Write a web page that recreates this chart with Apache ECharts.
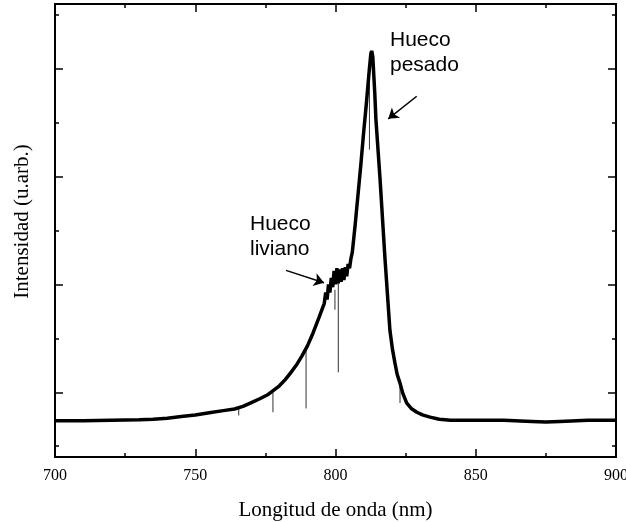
<!DOCTYPE html>
<html><head><meta charset="utf-8">
<script src="https://cdn.jsdelivr.net/npm/echarts@6/dist/echarts.min.js"></script>
<style>html,body{margin:0;padding:0;background:#fff}#c{width:626px;height:522px}</style>
</head><body><div id="c"></div>
<script>
// Wavelength (nm) and intensity (arb. units)
const wavelength = [700,710,720,730,735,740,745,750,755,760,764,767,770,773,776,778,780,782,784,786,788,790,792,794,
  796,796.5,797,797.5,798,798.5,799,799.5,800,800.5,801,801.5,802,802.5,803,803.5,804,804.5,805,805.5,806,
  807,808,809,810,811,812,812.6,812.9,813.3,814,814.4,815.9,817.6,819.4,820.3,821.2,822,823,824,825.4,827,829,831,833.7,837,841,
  850,860,870,875,880,890,900];
const intensity = [0.47,0.47,0.48,0.49,0.50,0.52,0.55,0.58,0.62,0.66,0.69,0.74,0.81,0.88,0.96,1.04,1.12,1.23,1.36,1.50,1.67,1.86,2.10,2.37,
  2.65,2.85,2.72,3.00,2.85,3.12,2.95,3.25,3.00,3.30,3.02,3.28,3.05,3.30,3.08,3.32,3.15,3.38,3.30,3.48,3.60,
  4.10,4.65,5.20,5.80,6.35,6.95,7.28,7.33,7.22,6.55,6.07,4.94,3.51,2.15,1.80,1.54,1.33,1.17,0.98,0.80,0.70,0.63,0.58,0.54,0.50,0.48,
  0.48,0.48,0.46,0.45,0.46,0.48,0.48];
// narrow downward glitches in the spectrum
const spikeX = [765.5,777.7,789.5,799.8,801.0,812.1,823.0];
const spikeTop = [0.70,1.00,1.80,2.90,3.05,6.90,1.17];
const spikeBottom = [0.57,0.63,0.70,2.53,1.37,5.50,0.80];
// axis ticks
const xMin = 700, xMax = 900, xStep = 50;
const yMajorTicks = [1,3,5,7];
const yMinorTicks = [0,2,4,6,8];
const yMin = -0.2, yMax = 8.2;
// annotations: arrow start / end in data coordinates
const arrowPesado = [[828.95,6.49],[818.8,6.07]];
const arrowLiviano = [[782.35,3.26],[795.9,3.03]];
const labelPesado = 'Hueco\npesado';
const labelLiviano = 'Hueco\nliviano';

const serif = '"Liberation Serif","Times New Roman",serif';
const sans = '"Liberation Sans",Arial,sans-serif';
const black = '#000';

const mainData = wavelength.map((x,i)=>[x,intensity[i]]);
const spikeSeries = spikeX.map((x,i)=>({
  type:'line', xAxisIndex:0, yAxisIndex:0, symbol:'none', silent:true,
  lineStyle:{color:'#333',width:1}, data:[[x,spikeTop[i]],[x,spikeBottom[i]]], z:3
}));

function xAxisCfg(pos, showLabel){
  return {
    type:'value', position:pos, min:xMin, max:xMax, interval:xStep,
    axisLine:{show:true,onZero:false,lineStyle:{color:black,width:2}},
    axisTick:{show:true,inside:true,length:8,lineStyle:{color:black,width:1.5}},
    minorTick:{show:true,splitNumber:2,length:4,lineStyle:{color:black,width:1.5}},
    splitLine:{show:false}, minorSplitLine:{show:false},
    axisLabel:{show:showLabel,fontFamily:serif,fontSize:16,color:black,margin:11},
    name: showLabel ? 'Longitud de onda (nm)' : '',
    nameLocation:'middle', nameGap:43,
    nameTextStyle:{fontFamily:serif,fontSize:21,color:black}
  };
}
function yAxisCfg(pos, ticks, len, withName){
  return {
    type:'value', position:pos, min:yMin, max:yMax,
    axisLine:{show:true,onZero:false,lineStyle:{color:black,width:2}},
    axisTick:{show:true,inside:true,length:len,customValues:ticks,lineStyle:{color:black,width:1.5}},
    splitLine:{show:false},
    axisLabel:{show:false},
    name: withName ? 'Intensidad (u.arb.)' : '',
    nameLocation:'middle', nameGap:22,
    nameTextStyle:{fontFamily:serif,fontSize:21,color:black,padding:[0,0,0,18]}
  };
}

const chart = echarts.init(document.getElementById('c'),null,{renderer:'canvas'});
chart.setOption({
  animation:false,
  backgroundColor:'#fff',
  grid:{left:55,right:10,top:4,bottom:65,containLabel:false,outerBoundsMode:'none'},
  xAxis:[xAxisCfg('bottom',true), xAxisCfg('top',false)],
  yAxis:[yAxisCfg('left',yMajorTicks,8,true), yAxisCfg('right',yMajorTicks,8,false),
         yAxisCfg('right',yMinorTicks,4,false), yAxisCfg('left',yMinorTicks,4,false)],
  graphic:[
    {type:'text',left:390,top:28,style:{text:labelPesado,font:'21px '+sans,fill:black,lineHeight:25}},
    {type:'text',left:250,top:212,style:{text:labelLiviano,font:'21px '+sans,fill:black,lineHeight:25}}
  ],
  series:[{
    type:'line', xAxisIndex:0, yAxisIndex:0, symbol:'none', silent:true,
    lineStyle:{color:black,width:3.5}, itemStyle:{color:black}, data:mainData, z:4,
    markLine:{
      silent:true, symbol:['none','arrow'], symbolSize:10, symbolKeepAspect:true,
      itemStyle:{color:black},
      lineStyle:{color:black,width:1.5,type:'solid'}, label:{show:false},
      data:[
        [{coord:arrowPesado[0]},{coord:arrowPesado[1]}],
        [{coord:arrowLiviano[0]},{coord:arrowLiviano[1]}]
      ]
    }
  }].concat(spikeSeries)
});
</script>
</body></html>
